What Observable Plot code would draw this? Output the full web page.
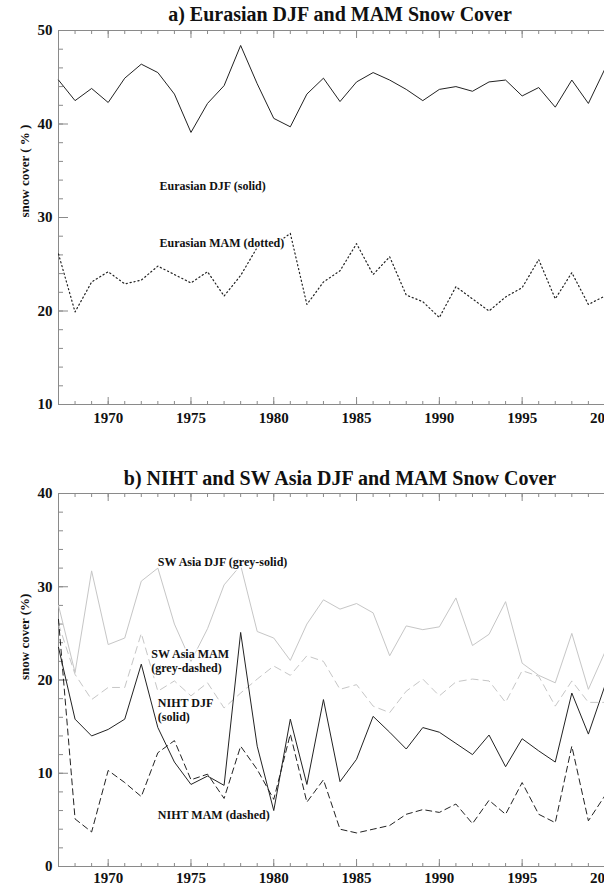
<!DOCTYPE html>
<html><head><meta charset="utf-8">
<script src="https://cdn.jsdelivr.net/npm/d3@7"></script>
<script src="https://cdn.jsdelivr.net/npm/@observablehq/plot@0.6"></script>
<style>
body{margin:0;background:#fff;}
#wrap{width:604px;height:886px;overflow:hidden;position:relative;background:#fff;}
#wrap svg{display:block;}
</style></head><body><div id="wrap"></div>
<script>
const years = [1967,1968,1969,1970,1971,1972,1973,1974,1975,1976,1977,1978,1979,1980,1981,1982,1983,1984,1985,1986,1987,1988,1989,1990,1991,1992,1993,1994,1995,1996,1997,1998,1999,2000];
const majorYears = [1970,1975,1980,1985,1990,1995,2000];
const minorYears = [1967,1968,1969,1970,1971,1972,1973,1974,1975,1976,1977,1978,1979,1980,1981,1982,1983,1984,1985,1986,1987,1988,1989,1990,1991,1992,1993,1994,1995,1996,1997,1998,1999,2000,2001];

// panel a
const eurasiaDJF = [44.7,42.5,43.8,42.3,44.9,46.4,45.5,43.2,39.1,42.2,44.1,48.4,44.3,40.6,39.7,43.2,44.9,42.4,44.5,45.5,44.7,43.7,42.5,43.7,44.0,43.5,44.5,44.7,43.0,43.9,41.8,44.7,42.2,45.9];
const eurasiaMAM = [26.1,19.9,23.1,24.2,22.9,23.3,24.8,23.9,23.0,24.2,21.6,23.8,26.8,27.0,28.3,20.7,23.1,24.3,27.2,23.9,25.8,21.7,21.0,19.3,22.6,21.3,20.0,21.5,22.5,25.5,21.3,24.1,20.7,21.6];
const aYTicks = [10,20,30,40,50];
const aYMinor = [10,12,14,16,18,20,22,24,26,28,30,32,34,36,38,40,42,44,46,48,50];

// panel b
const swDJF = [28.0,20.8,31.7,23.8,24.5,30.6,32.0,26.0,22.0,25.5,30.2,32.3,25.2,24.5,22.1,26.0,28.6,27.6,28.2,27.2,22.6,25.8,25.4,25.7,28.8,23.7,24.9,28.4,21.8,20.5,19.7,25.0,19.0,23.0];
const swMAM = [26.0,20.6,17.9,19.2,19.2,25.0,18.8,19.9,18.3,19.7,17.0,18.6,20.1,21.5,20.5,22.6,22.0,19.0,19.5,17.2,16.5,18.8,20.1,18.3,19.8,20.1,19.9,17.6,21.0,20.4,17.2,19.9,17.6,17.6];
const nihtDJF = [23.5,15.8,14.0,14.7,15.8,21.7,14.9,11.2,8.8,9.7,8.7,25.1,12.9,6.0,15.8,8.8,17.9,9.1,11.5,16.1,14.4,12.6,14.9,14.4,13.2,12.0,14.1,10.7,13.7,12.4,11.2,18.6,14.2,19.4];
const nihtMAM = [26.5,5.1,3.7,10.3,9.0,7.5,12.2,13.5,9.3,9.9,7.3,12.9,10.4,7.2,14.2,6.9,9.3,4.0,3.6,4.0,4.4,5.6,6.1,5.8,6.7,4.6,7.1,5.6,9.0,5.6,4.7,12.9,4.9,7.6];
const bYTicks = [0,10,20,30,40];
const bYMinor = [0,2,4,6,8,10,12,14,16,18,20,22,24,26,28,30,32,34,36,38,40];

const titleA = "a) Eurasian DJF and MAM Snow Cover";
const titleB = "b) NIHT and SW Asia DJF and MAM Snow Cover";
const labelsA = [
  {x: 1973.1, y: 33.4, t: "Eurasian DJF (solid)"},
  {x: 1973.1, y: 27.3, t: "Eurasian MAM (dotted)"}
];
const labelsB = [
  {x: 1973.0, y: 32.6, t: "SW Asia DJF (grey-solid)"},
  {x: 1972.6, y: 22.8, t: "SW Asia MAM"},
  {x: 1972.6, y: 21.3, t: "(grey-dashed)"},
  {x: 1973.0, y: 17.5, t: "NIHT DJF"},
  {x: 1973.0, y: 16.0, t: "(solid)"},
  {x: 1973.0, y: 5.5, t: "NIHT MAM (dashed)"}
];

const series = (arr) => years.map((yr, i) => ({year: yr, value: arr[i]}));
const AX = "#8a8a8a";
const FONT = "'Liberation Serif', 'Times New Roman', serif";

function panel({height, marginTop, marginBottom, yDomain, yTicks, yMinor, title, titleDy, yLabel, lines, labels, xPad}) {
  return Plot.plot({
    width: 621, height, marginLeft: 58, marginRight: 0, marginTop, marginBottom,
    style: {fontFamily: FONT, fontSize: "15px", fontWeight: "bold", maxWidth: "none", overflow: "visible", color: "#111", background: "#fff"},
    x: {type: "linear", domain: [1967, 2001]},
    y: {domain: yDomain},
    marks: [
      Plot.frame({stroke: AX}),
      Plot.axisX({anchor: "bottom", ticks: majorYears, tickSize: -7, fill: "none", stroke: AX, label: null}),
      Plot.axisX({anchor: "bottom", ticks: minorYears, tickSize: -3, fill: "none", stroke: AX, label: null}),
      Plot.axisX({anchor: "top", ticks: majorYears, tickSize: -7, fill: "none", stroke: AX, label: null}),
      Plot.axisX({anchor: "top", ticks: minorYears, tickSize: -3, fill: "none", stroke: AX, label: null}),
      Plot.axisY({anchor: "left", ticks: yTicks, tickSize: -10, fill: "none", stroke: AX, label: null}),
      Plot.axisY({anchor: "left", ticks: yMinor, tickSize: -5, fill: "none", stroke: AX, label: null}),
      Plot.axisX({anchor: "bottom", ticks: majorYears, tickSize: 0, tickPadding: xPad, tickFormat: d => String(d), label: null, fill: "#111"}),
      Plot.axisY({anchor: "left", ticks: yTicks, tickSize: 0, tickPadding: 6, tickFormat: d => String(d), label: null, fill: "#111"}),
      ...lines.map(l => Plot.line(series(l.data), {x: "year", y: "value", stroke: l.stroke, strokeWidth: l.width || 1, strokeDasharray: l.dash})),
      Plot.text(labels, {x: "x", y: "y", text: "t", textAnchor: "start", fontSize: 12, fontWeight: "bold", fill: "#111", stroke: "white", strokeWidth: 3, paintOrder: "stroke"}),
      Plot.text([title], {frameAnchor: "top", lineAnchor: "middle", dy: titleDy, fontSize: 20, fontWeight: "bold", fill: "#111"}),
      Plot.text([yLabel], {frameAnchor: "left", dx: -34, rotate: -90, fontSize: 13, fontWeight: "bold", fill: "#111"})
    ]
  });
}

const wrap = document.getElementById("wrap");
wrap.appendChild(panel({
  height: 445, marginTop: 30, marginBottom: 41, yDomain: [10, 50], yTicks: aYTicks, yMinor: aYMinor,
  title: titleA, titleDy: -16, yLabel: "snow cover ( % )", labels: labelsA, xPad: 8,
  lines: [
    {data: eurasiaDJF, stroke: "#222"},
    {data: eurasiaMAM, stroke: "#222", dash: "1.2,2.8", width: 1.2}
  ]
}));
wrap.appendChild(panel({
  height: 441, marginTop: 48, marginBottom: 20, yDomain: [0, 40], yTicks: bYTicks, yMinor: bYMinor,
  title: titleB, titleDy: -15, yLabel: "snow cover (%)", labels: labelsB, xPad: 6,
  lines: [
    {data: swDJF, stroke: "#c6c6c6"},
    {data: swMAM, stroke: "#c6c6c6", dash: "7,5"},
    {data: nihtDJF, stroke: "#222"},
    {data: nihtMAM, stroke: "#222", dash: "6,4"}
  ]
}));
</script>
</body></html>
